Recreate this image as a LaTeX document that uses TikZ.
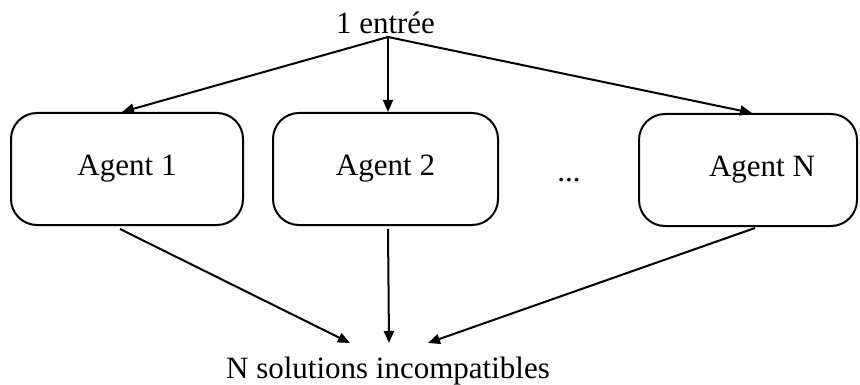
\documentclass[tikz,border=0pt]{standalone}
\usepackage{fontspec}
\setmainfont{Liberation Serif}
\usetikzlibrary{arrows.meta}
\begin{document}
\begin{tikzpicture}[x=1pt,y=-1pt,
  every node/.style={font=\fontsize{31}{36}\selectfont},
  agent/.style={draw, line width=2pt, rounded corners=26pt,
    minimum height=112pt, inner sep=0pt},
  flow/.style={line width=2pt, -{Triangle[length=12pt,width=10pt]}}]
  \useasboundingbox (0,0) rectangle (860,385);

  % input label and the point the arrows leave from
  \node[anchor=base, inner sep=0pt] (in) at (385.5,34) {1 entrée};
  \coordinate (src) at (388,37);

  % the agents
  \node[agent, minimum width=232pt] (a1) at (127,169) {\raisebox{-3pt}{Agent 1}};
  \node[agent, minimum width=225pt] (a2) at (385.5,169) {\raisebox{-3pt}{Agent 2}};
  \node[agent, minimum width=218pt] (aN) at (748,170) {\hspace*{28pt}\raisebox{-3pt}{Agent N}};
  \node[anchor=base, inner sep=0pt] (dots) at (569,182) {...};

  % output label and where the arrows land
  \node[anchor=base, inner sep=0pt] (out) at (388,378) {N solutions incompatibles};
  \coordinate (t1) at (350,343);
  \coordinate (t2) at (389,343);
  \coordinate (tN) at (428,343);

  % fan-out to the agents
  \draw[flow] (src) -- ([xshift=-5pt]a1.north);
  \draw[flow] (src) -- ([xshift=2.5pt]a2.north);
  \draw[flow] (src) -- ([xshift=4pt]aN.north);

  % fan-in to the solutions
  \draw[flow] ([xshift=-7pt,yshift=-3pt]a1.south) -- (t1);
  \draw[flow] ([xshift=2.5pt,yshift=-3pt]a2.south) -- (t2);
  \draw[flow] ([xshift=7pt,yshift=-1pt]aN.south) -- (tN);
\end{tikzpicture}
\end{document}
